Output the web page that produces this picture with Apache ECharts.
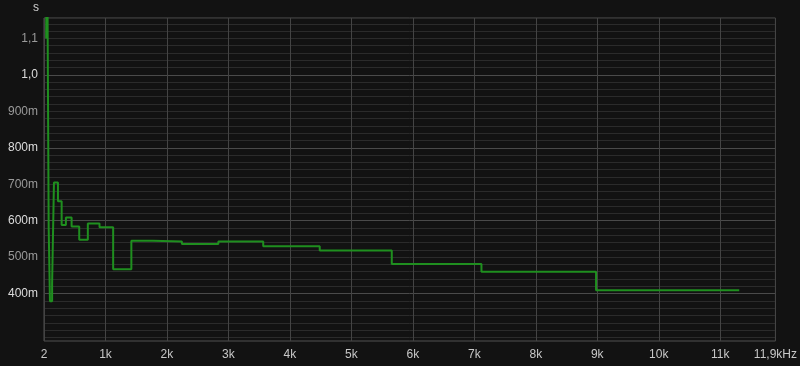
<!DOCTYPE html>
<html>
<head>
<meta charset="utf-8">
<script src="https://cdn.jsdelivr.net/npm/echarts@6/dist/echarts.min.js"></script>
<style>
html,body{margin:0;padding:0;background:#121212;}
#c{width:800px;height:366px;}
</style>
</head>
<body>
<div id="c"></div>
<script>
// Band edges (Hz) and the value (s) held over each band
const bandEdges = [37, 50, 78, 99, 134, 164, 229, 289, 358, 451, 575, 715, 905, 1127, 1423, 1775, 2245, 2838, 3568, 4487, 5659, 7118, 8982, 11311];
const bandValues = [1.10, 1.50, 0.582, 0.379, 0.429, 0.705, 0.653, 0.588, 0.609, 0.584, 0.548, 0.592, 0.582, 0.467, 0.545, 0.543, 0.536, 0.543, 0.530, 0.518, 0.481, 0.460, 0.409];
const xTickLabels = {min: '2', max: '11,9kHz', unit: 'k'};
const yName = 's';

const points = bandValues.map((v, i) => [bandEdges[i], v]);
points.push([bandEdges[bandEdges.length - 1], bandValues[bandValues.length - 1]]);

// split line colours cycle: value*100 = 27 + index
const splitColors = [];
for (let i = 0; i < 20; i++) {
  const r = 27 + i;
  if (r % 20 === 0) splitColors.push('#4a4a4a');
  else if (r % 2 === 0) splitColors.push('#2b2b2b');
  else splitColors.push('rgba(0,0,0,0)');
}

const chart = echarts.init(document.getElementById('c'));
chart.setOption({
  backgroundColor: '#121212',
  animation: false,
  grid: {left: 44, right: 22, top: 18, bottom: 25, show: true, borderColor: '#505050', borderWidth: 1, backgroundColor: '#121212'},
  xAxis: {
    type: 'value', min: 2, max: 11900, interval: 1000,
    axisLine: {show: false},
    axisTick: {show: false},
    splitLine: {show: true, lineStyle: {color: '#444', width: 1}},
    axisLabel: {
      color: '#c8c8c8', fontFamily: 'Liberation Sans, Arial, sans-serif', fontSize: 12, margin: 8,
      showMinLabel: true, showMaxLabel: true,
      formatter: function (v) {
        if (Math.abs(v - 2) < 1) return xTickLabels.min;
        if (Math.abs(v - 11900) < 1) return xTickLabels.max;
        return Math.round(v / 1000) + xTickLabels.unit;
      }
    }
  },
  yAxis: {
    type: 'value', min: 0.27, max: 1.156, interval: 0.01,
    name: yName, nameLocation: 'end', nameGap: 4,
    nameTextStyle: {color: '#d0d0d0', fontFamily: 'Liberation Sans, Arial, sans-serif', fontSize: 12, align: 'right', padding: [0, 5, 0, 0]},
    axisLine: {show: false},
    axisTick: {show: false},
    splitLine: {show: true, lineStyle: {color: splitColors, width: 1}},
    axisLabel: {
      fontFamily: 'Liberation Sans, Arial, sans-serif', fontSize: 12, margin: 6,
      formatter: function (v) {
        const r = Math.round(v * 100);
        if (Math.abs(v * 100 - r) > 0.01) return '';
        if (r % 10 !== 0 || r < 40 || r > 110) return '';
        const txt = r >= 100 ? (r / 100).toFixed(1).replace('.', ',') : (r * 10) + 'm';
        return r % 20 === 0 ? '{b|' + txt + '}' : '{d|' + txt + '}';
      },
      rich: {
        b: {color: '#dcdcdc', fontFamily: 'Liberation Sans, Arial, sans-serif', fontSize: 12},
        d: {color: '#9a9a9a', fontFamily: 'Liberation Sans, Arial, sans-serif', fontSize: 12}
      }
    }
  },
  series: [{
    type: 'line', step: 'end', data: points, showSymbol: false, symbol: 'none',
    lineStyle: {color: '#1f8f1f', width: 2}, clip: true
  }]
});
</script>
</body>
</html>
